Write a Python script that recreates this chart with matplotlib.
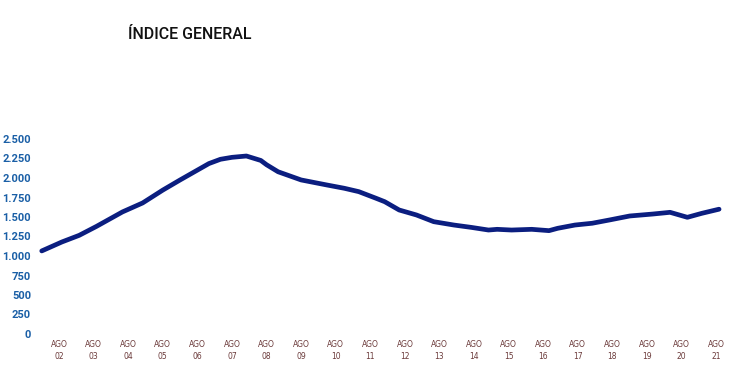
import pandas as pd
import matplotlib.pyplot as plt
from matplotlib.ticker import FuncFormatter

# (month, index value)
months = ["2002-02", "2002-09", "2003-03", "2003-09", "2004-06", "2005-01",
          "2005-08", "2006-02", "2006-07", "2006-12", "2007-04", "2007-08",
          "2008-01", "2008-06", "2008-08", "2008-12", "2009-08", "2010-05",
          "2010-11", "2011-04", "2011-10", "2012-01", "2012-06", "2012-12",
          "2013-06", "2014-01", "2014-07", "2015-01", "2015-04", "2015-09",
          "2016-04", "2016-10", "2017-01", "2017-07", "2018-01", "2018-07",
          "2019-02", "2019-10", "2020-04", "2020-10", "2021-03", "2021-09"]
values = [1065, 1180, 1265, 1380, 1565, 1680, 1845, 1975, 2080, 2185,
          2240, 2265, 2282, 2225, 2170, 2080, 1975, 1910, 1868, 1825,
          1740, 1696, 1590, 1526, 1440, 1397, 1367, 1333, 1342, 1333,
          1342, 1325, 1355, 1397, 1420, 1462, 1513, 1538, 1560, 1496,
          1547, 1600]

years = list(range(2002, 2022))
tick_labels = [f"AGO\n{y % 100:02d}" for y in years]
y_ticks = [0, 250, 500, 750, 1000, 1250, 1500, 1750, 2000, 2250, 2500]

dates = pd.to_datetime(months)
# months counted from August 2002
x = [(d.year - 2002) * 12 + d.month - 8 for d in dates]
x_ticks = [(y - 2002) * 12 for y in years]

fig = plt.figure(figsize=(7.5, 3.65), dpi=100)
ax = fig.add_axes([38 / 750, 31 / 365, 690 / 750, 195 / 365])

ax.plot(x, values, color="#0b1e80", lw=3.4, solid_capstyle="round",
        solid_joinstyle="round")

ax.set_xlim(-7.3, 232.1)
ax.set_ylim(0, 2500)
ax.set_xticks(x_ticks)
ax.set_xticklabels(tick_labels, fontsize=5.5, color="#6b3a3a",
                   family="DejaVu Sans", linespacing=1.5)
ax.set_yticks(y_ticks)
ax.yaxis.set_major_formatter(FuncFormatter(lambda v, p: f"{int(v):,}".replace(",", ".")))
for lab in ax.get_yticklabels():
    lab.set_fontfamily("Roboto")
    lab.set_fontweight("bold")
    lab.set_fontsize(8)
    lab.set_color("#1a5fa6")

ax.tick_params(axis="both", length=0)
ax.tick_params(axis="y", pad=5)
ax.tick_params(axis="x", pad=4)
for s in ax.spines.values():
    s.set_visible(False)

fig.text(128 / 750, 1 - 27 / 365, "ÍNDICE GENERAL", fontsize=11.5,
         family="Roboto", fontweight="medium", color="#111111",
         va="top", ha="left")

fig.savefig("out.png", dpi=100, facecolor="white")
